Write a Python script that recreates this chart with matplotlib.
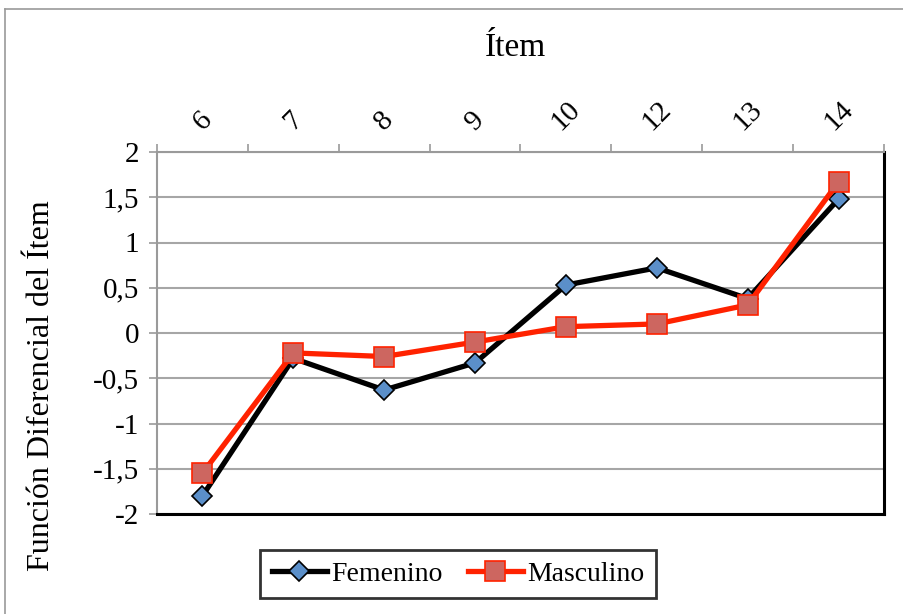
import matplotlib
matplotlib.use("Agg")
import matplotlib.pyplot as plt
from matplotlib.lines import Line2D
from matplotlib.ticker import FixedLocator, FuncFormatter

items = ["6", "7", "8", "9", "10", "12", "13", "14"]
femenino = [-1.80, -0.28, -0.63, -0.33, 0.53, 0.72, 0.38, 1.48]
masculino = [-1.55, -0.22, -0.26, -0.10, 0.07, 0.10, 0.31, 1.67]
y_ticks = [-2, -1.5, -1, -0.5, 0, 0.5, 1, 1.5, 2]

plt.rcParams["font.family"] = ["Liberation Serif", "DejaVu Serif"]

fig = plt.figure(figsize=(9.04, 6.14), dpi=100)
W, H = 904, 614

# chart-area frame (left and top edges visible)
fig.add_artist(Line2D([5 / W, 5 / W], [0, 1 - 9 / H], transform=fig.transFigure,
                      color="#9a9a9a", lw=1.2))
fig.add_artist(Line2D([5 / W, 1], [1 - 9 / H, 1 - 9 / H], transform=fig.transFigure,
                      color="#9a9a9a", lw=1.2))

ax = fig.add_axes([157 / W, 1 - 514 / H, (884 - 157) / W, (514 - 152) / H])

x = list(range(len(items)))
ax.plot(x, femenino, color="black", lw=3.8, marker="D", markersize=10.5,
        markerfacecolor="#5B8FC9", markeredgecolor="black", markeredgewidth=1.2,
        label="Femenino", zorder=3)
ax.plot(x, masculino, color="#FF2200", lw=3.8, marker="s", markersize=14,
        markerfacecolor="#CD6660", markeredgecolor="#FF2200", markeredgewidth=1.2,
        label="Masculino", zorder=4)

ax.set_xlim(-0.5, len(items) - 0.5)
ax.set_ylim(-2, 2)

# category labels on top, ticks at category boundaries
ax.xaxis.set_ticks_position("top")
ax.xaxis.set_label_position("top")
ax.set_xticks([i - 0.5 for i in range(len(items) + 1)])
ax.set_xticklabels([])
ax.set_xticks(x, minor=True)
ax.set_xticklabels(items, minor=True, rotation=45, fontsize=21)
ax.tick_params(axis="x", which="major", direction="out", length=6, width=1.2,
               color="#9a9a9a", top=True, bottom=False)
ax.tick_params(axis="x", which="minor", length=0, pad=12, top=True, bottom=False,
               labeltop=True, labelbottom=False)

ax.yaxis.set_major_locator(FixedLocator(y_ticks))
ax.yaxis.set_major_formatter(FuncFormatter(lambda v, p: f"{v:g}".replace(".", ",")))
ax.tick_params(axis="y", direction="out", length=6, width=1.2, color="#9a9a9a",
               labelsize=21, pad=7)

ax.grid(axis="y", color="#a6a6a6", lw=1.5)
ax.set_axisbelow(True)

for side in ("left", "top"):
    ax.spines[side].set_color("#9a9a9a")
    ax.spines[side].set_linewidth(1.5)
for side in ("right", "bottom"):
    ax.spines[side].set_color("black")
    ax.spines[side].set_linewidth(2.2)

fig.text(515 / W, 1 - 48 / H, "Ítem", ha="center", va="center", fontsize=24)
fig.text(42 / W, 1 - 386 / H, "Función Diferencial del Ítem", ha="center",
         va="center", rotation=90, fontsize=23)

leg = fig.legend(handles=ax.get_lines(), loc="center",
                 bbox_to_anchor=(458 / W, 1 - 574 / H), ncol=2, fontsize=20,
                 frameon=True, fancybox=False, handlelength=2.0,
                 columnspacing=0.9, handletextpad=0.15, borderpad=0.4,
                 borderaxespad=0)
leg.get_frame().set_edgecolor("black")
leg.get_frame().set_linewidth(2.0)

fig.savefig("out.png", dpi=100, facecolor="white")
